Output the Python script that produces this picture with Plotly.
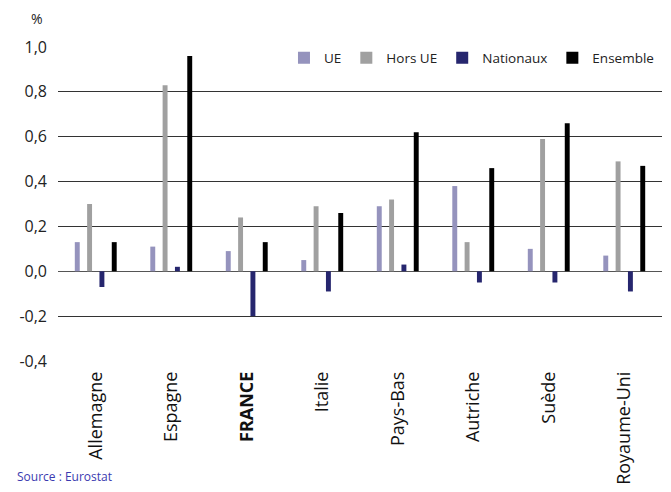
import plotly.graph_objects as go

categories = ["Allemagne", "Espagne", "FRANCE", "Italie", "Pays-Bas", "Autriche", "Suède", "Royaume-Uni"]
tick_labels = ["Allemagne", "Espagne", "<b>FRANCE</b>", "Italie", "Pays-Bas", "Autriche", "Suède", "Royaume-Uni"]
ue = [0.13, 0.11, 0.09, 0.05, 0.29, 0.38, 0.10, 0.07]
hors_ue = [0.30, 0.83, 0.24, 0.29, 0.32, 0.13, 0.59, 0.49]
nationaux = [-0.07, 0.02, -0.20, -0.09, 0.03, -0.05, -0.05, -0.09]
ensemble = [0.13, 0.96, 0.13, 0.26, 0.62, 0.46, 0.66, 0.47]
y_ticks = [-0.4, -0.2, 0.0, 0.2, 0.4, 0.6, 0.8, 1.0]
y_tick_labels = ["-0,4", "-0,2", "0,0", "0,2", "0,4", "0,6", "0,8", "1,0"]

series = [("UE", ue, "#9593BD"), ("Hors UE", hors_ue, "#A0A0A0"),
          ("Nationaux", nationaux, "#26266E"), ("Ensemble", ensemble, "#000000")]

fig = go.Figure()
for name, vals, col in series:
    fig.add_trace(go.Bar(x=categories, y=vals, name=name, marker_color=col, marker_line_width=0))

font = "'Open Sans', sans-serif"
fig.update_layout(
    width=663, height=484,
    margin=dict(l=50, r=9, t=39, b=131, autoexpand=False),
    plot_bgcolor="white", paper_bgcolor="white",
    barmode="group", bargap=0.347, bargroupgap=0.6,
    separators=", ",
    font=dict(family=font, size=14, color="#222222"),
    showlegend=True,
    legend=dict(orientation="h", x=0.995, xanchor="right", y=0.965, yanchor="middle",
                font=dict(size=13.5), bgcolor="rgba(0,0,0,0)",
                itemwidth=30, tracegroupgap=0, traceorder="normal"),
    xaxis=dict(tickmode="array", tickvals=categories, ticktext=tick_labels,
               tickangle=-90, showline=False, showgrid=False, ticks="",
               automargin=False, ticklabelstandoff=6,
               tickfont=dict(size=18, color="#111111")),
    yaxis=dict(range=[-0.4, 1.0], tickmode="array", tickvals=y_ticks, ticktext=y_tick_labels,
               showgrid=True, gridcolor="#333333", gridwidth=1,
               zeroline=True, zerolinecolor="#555555", zerolinewidth=1,
               showline=False, ticks="", ticklabelstandoff=10, automargin=False,
               tickfont=dict(size=16, color="#222222")),
    annotations=[
        dict(text="%", xref="paper", yref="paper", x=-0.035, y=1.09, xanchor="center",
             yanchor="middle", showarrow=False, font=dict(size=14, color="#222222")),
        dict(text="Source : Eurostat", xref="paper", yref="paper", x=-0.071, y=-0.40,
             xanchor="left", yanchor="bottom", showarrow=False, font=dict(size=12, color="#3a3ab0")),
    ],
)

fig.write_html("out.html")
